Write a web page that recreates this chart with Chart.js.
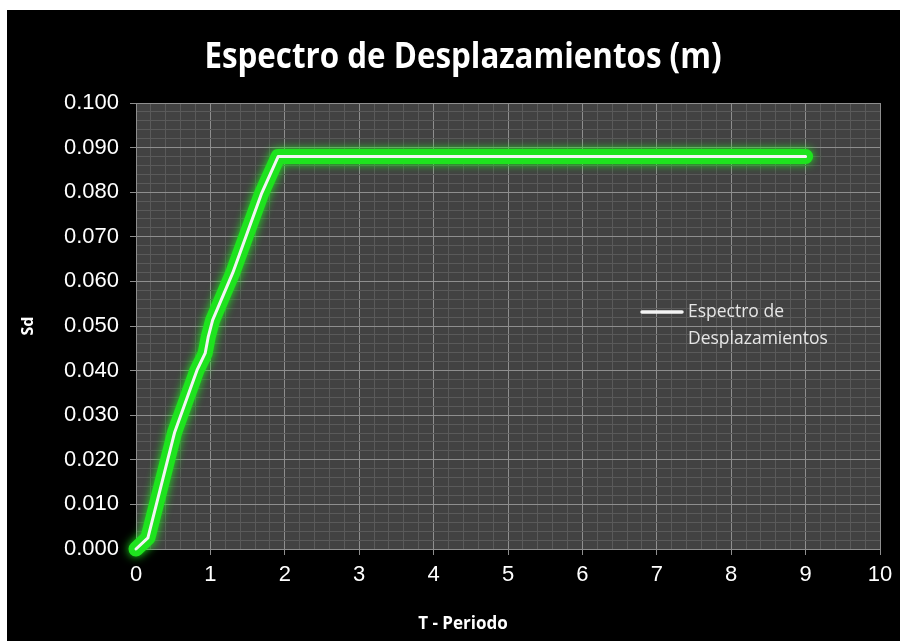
<!DOCTYPE html>
<html>
<head>
<meta charset="utf-8">
<script src="https://cdn.jsdelivr.net/npm/chart.js@4/dist/chart.umd.min.js"></script>
<style>
  html, body { margin: 0; padding: 0; background: #fff; }
  #marco { position: absolute; left: 7px; top: 10px; width: 893px; height: 631px; background: #000; }
</style>
</head>
<body>
<div id="marco"><canvas id="grafico" width="893" height="631"></canvas></div>
<script>
// T (s) y Sd (m) del espectro
var periodos = [0, 0.16, 0.52, 0.82, 0.93, 0.97, 1.03, 1.30, 1.69, 1.91, 9.0];
var desplazamientos = [0, 0.0025, 0.0262, 0.0401, 0.0439, 0.0475, 0.0513, 0.0619, 0.0798, 0.088, 0.088];

var ticksX = [0, 1, 2, 3, 4, 5, 6, 7, 8, 9, 10];
var ticksY = ['0.000', '0.010', '0.020', '0.030', '0.040', '0.050', '0.060', '0.070', '0.080', '0.090', '0.100'];

var titulo = 'Espectro de Desplazamientos (m)';
var tituloX = 'T - Periodo';

var puntos = [];
for (var i = 0; i < periodos.length; i++) {
    puntos.push({ x: periodos[i], y: desplazamientos[i] });
}

function esMayor(valor, paso) {
    var n = valor / paso;
    return Math.abs(n - Math.round(n)) < 1e-6;
}

// fondo gris del area de trazado
var fondoArea = {
    id: 'fondoArea',
    beforeDraw: function (chart) {
        var a = chart.chartArea;
        var ctx = chart.ctx;
        ctx.save();
        ctx.fillStyle = '#424242';
        ctx.fillRect(a.left, a.top, a.right - a.left, a.bottom - a.top);
        ctx.restore();
    }
};

// brillo verde alrededor de la linea
var brillo = {
    id: 'brillo',
    beforeDatasetDraw: function (chart, args) {
        if (args.index === 1) {
            chart.ctx.save();
            chart.ctx.shadowColor = 'rgba(30,235,30,1)';
            chart.ctx.shadowBlur = 10;
        }
    },
    afterDatasetDraw: function (chart, args) {
        if (args.index === 1) chart.ctx.restore();
    }
};

// titulo principal, titulo del eje X y leyenda
var textos = {
    id: 'textos',
    afterDraw: function (chart) {
        var ctx = chart.ctx;
        ctx.save();
        ctx.fillStyle = '#fff';
        ctx.textAlign = 'center';
        ctx.textBaseline = 'middle';

        // titulo algo estrecho
        ctx.save();
        ctx.translate(456, 48);
        ctx.scale(0.87, 1);
        ctx.font = 'bold 36px "Open Sans"';
        ctx.fillText(titulo, 0, 0);
        ctx.restore();

        ctx.font = 'bold 17px "Open Sans"';
        ctx.fillText(tituloX, 456, 614);

        // leyenda
        var ds = chart.data.datasets[0];
        var lineas = ds.label.split('\n');
        ctx.strokeStyle = ds.borderColor;
        ctx.lineWidth = 3.5;
        ctx.lineCap = 'round';
        ctx.beginPath();
        ctx.moveTo(635, 302);
        ctx.lineTo(675, 302);
        ctx.stroke();
        ctx.fillStyle = '#e6e6e6';
        ctx.font = '17.5px "Open Sans"';
        ctx.textAlign = 'left';
        for (var k = 0; k < lineas.length; k++) {
            ctx.fillText(lineas[k], 681, 302 + k * 27);
        }
        ctx.restore();
    }
};

var config = {
    type: 'line',
    data: {
        datasets: [{
            label: 'Espectro de\nDesplazamientos',
            data: puntos,
            borderColor: '#f4f4f4',
            borderWidth: 3,
            borderCapStyle: 'round',
            borderJoinStyle: 'round',
            pointRadius: 0,
            tension: 0,
            clip: false
        }, {
            label: 'brillo',
            data: puntos,
            borderColor: '#1ee31e',
            borderWidth: 15,
            borderCapStyle: 'round',
            borderJoinStyle: 'round',
            pointRadius: 0,
            tension: 0,
            clip: false
        }]
    },
    options: {
        responsive: false,
        animation: false,
        layout: {
            padding: { left: 0, right: 20, top: 93, bottom: 0 }
        },
        scales: {
            x: {
                type: 'linear',
                min: 0,
                max: 10,
                afterFit: function (scale) { scale.height = 92; },
                ticks: {
                    stepSize: 0.2,
                    autoSkip: false,
                    maxRotation: 0,
                    padding: 7,
                    color: '#fff',
                    font: { family: '"Liberation Sans"', size: 22 },
                    callback: function (v) {
                        return esMayor(v, 1) ? String(ticksX[Math.round(v)]) : '';
                    }
                },
                grid: {
                    tickLength: 6,
                    color: function (c) { return esMayor(c.tick.value, 1) ? '#8e8e8e' : '#5a5a5a'; },
                    tickColor: function (c) { return esMayor(c.tick.value, 1) ? '#8e8e8e' : 'rgba(0,0,0,0)'; }
                },
                border: { color: '#8e8e8e' }
            },
            y: {
                type: 'linear',
                min: 0,
                max: 0.1,
                afterFit: function (scale) { scale.width = 129; },
                ticks: {
                    stepSize: 0.002,
                    autoSkip: false,
                    padding: 11,
                    color: '#fff',
                    font: { family: '"Liberation Sans"', size: 22 },
                    callback: function (v) {
                        return esMayor(v, 0.01) ? ticksY[Math.round(v * 100)] : '';
                    }
                },
                grid: {
                    tickLength: 6,
                    color: function (c) { return esMayor(c.tick.value, 0.01) ? '#8e8e8e' : '#5a5a5a'; },
                    tickColor: function (c) { return esMayor(c.tick.value, 0.01) ? '#8e8e8e' : 'rgba(0,0,0,0)'; }
                },
                border: { color: '#8e8e8e' },
                title: {
                    display: true,
                    text: 'Sd',
                    color: '#fff',
                    font: { family: '"Open Sans"', size: 16, weight: 'bold' },
                    padding: { top: 12, bottom: 0 }
                }
            }
        },
        plugins: {
            legend: { display: false },
            tooltip: { enabled: false },
            title: { display: false }
        }
    },
    plugins: [fondoArea, brillo, textos]
};

var miGrafico = new Chart(document.getElementById('grafico'), config);
</script>
</body>
</html>
